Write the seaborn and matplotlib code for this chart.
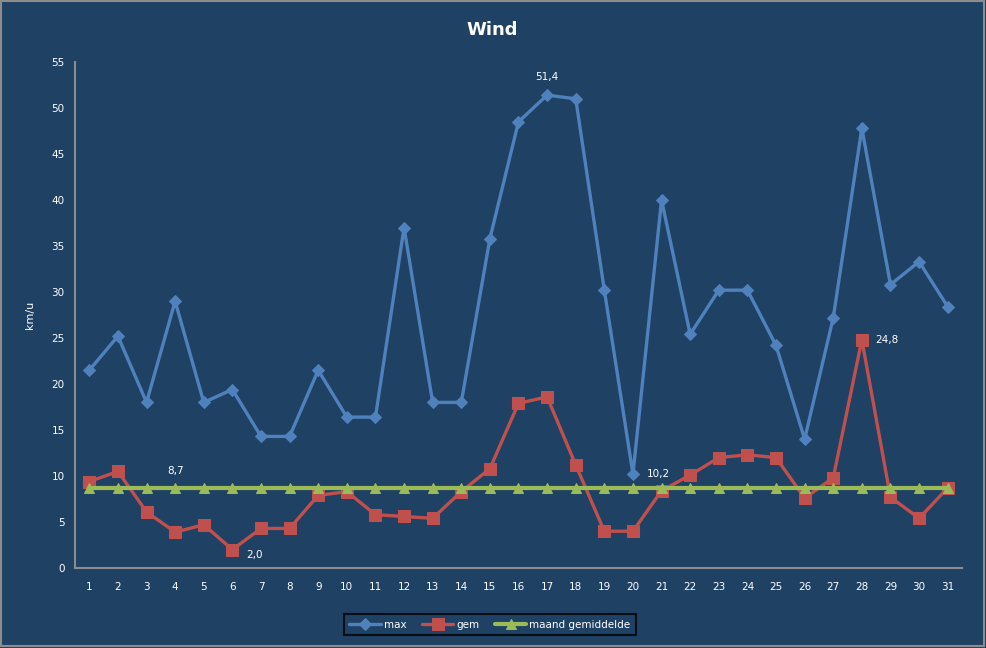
import numpy as np
import pandas as pd
import matplotlib
matplotlib.use("Agg")
import matplotlib.pyplot as plt
import seaborn as sns
from matplotlib.patches import Rectangle

# data
days = list(range(1, 32))
wind_max = [21.5, 25.2, 18.0, 29.0, 18.0, 19.4, 14.3, 14.3, 21.5, 16.4, 16.4, 37.0, 18.0, 18.0, 35.8, 48.5,
            51.4, 51.0, 30.2, 10.2, 40.0, 25.4, 30.2, 30.2, 24.2, 14.0, 27.2, 47.8, 30.8, 33.3, 28.4]
wind_gem = [9.4, 10.5, 6.1, 3.9, 4.7, 2.0, 4.3, 4.3, 7.9, 8.3, 5.8, 5.6, 5.4, 8.3, 10.8, 17.9,
            18.6, 11.2, 4.0, 4.0, 8.4, 10.1, 12.0, 12.3, 12.0, 7.6, 9.8, 24.8, 7.7, 5.4, 8.7]
maand_gem = [8.7] * 31
series_names = ["max", "gem", "maand gemiddelde"]

bg = "#1F4164"
colors = {"max": "#4F81BD", "gem": "#C0504D", "maand gemiddelde": "#9BBB59"}
markers = {"max": "D", "gem": "s", "maand gemiddelde": "^"}
sizes = {"max": 6, "gem": 8, "maand gemiddelde": 6.5}
widths = {"max": 2.4, "gem": 2.4, "maand gemiddelde": 3.0}

df = pd.DataFrame({"dag": days * 3,
                   "waarde": wind_max + wind_gem + maand_gem,
                   "reeks": [series_names[0]] * 31 + [series_names[1]] * 31 + [series_names[2]] * 31})

sns.set_style("dark")
plt.rcParams["font.family"] = ["DejaVu Sans"]

fig = plt.figure(figsize=(9.87, 6.48), dpi=100)
fig.patch.set_facecolor(bg)
ax = fig.add_axes([75 / 987, 1 - 568 / 648, 887 / 987, 506 / 648])
ax.set_facecolor(bg)

for name in series_names:
    sub = df[df["reeks"] == name]
    sns.lineplot(data=sub, x="dag", y="waarde", ax=ax, color=colors[name], marker=markers[name],
                 markersize=sizes[name], markeredgecolor=colors[name], linewidth=widths[name], label=name)

ax.set_xlim(0.5, 31.5)
ax.set_ylim(0, 55)
ax.set_yticks(np.arange(0, 56, 5))
ax.set_xticks(days)
ax.set_xticks(np.arange(0.5, 32, 1), minor=True)
ax.tick_params(axis="x", which="major", length=0, colors="white", labelsize=7.5, pad=10)
ax.tick_params(axis="x", which="minor", length=4, color="#8C8C8C", direction="out")
ax.tick_params(axis="y", length=4, color="#8C8C8C", direction="out", colors="white", labelsize=7.5)
ax.tick_params(axis="y", color="#8C8C8C")
ax.grid(False)
for s in ["top", "right"]:
    ax.spines[s].set_visible(False)
for s in ["left", "bottom"]:
    ax.spines[s].set_visible(True)
    ax.spines[s].set_color("#8C8C8C")
    ax.spines[s].set_linewidth(1.5)
ax.set_xlabel("")
ax.set_ylabel("km/u", color="white", fontsize=8, labelpad=12)

# data labels
ax.annotate("51,4", (17, wind_max[16]), xytext=(0, 11), textcoords="offset points", ha="center",
            color="white", fontsize=7.5)
ax.annotate("2,0", (6, wind_gem[5]), xytext=(10, -6), textcoords="offset points", ha="left",
            color="white", fontsize=7.5)
ax.annotate("8,7", (4, maand_gem[3]), xytext=(0, 10), textcoords="offset points", ha="center",
            color="white", fontsize=7.5)
ax.annotate("10,2", (20, wind_max[19]), xytext=(10, 0), textcoords="offset points", ha="left",
            va="center", color="white", fontsize=7.5)
ax.annotate("24,8", (28, wind_gem[27]), xytext=(10, 0), textcoords="offset points", ha="left",
            va="center", color="white", fontsize=7.5)

fig.text(492 / 987, 1 - 30 / 648, "Wind", ha="center", va="center", color="white",
         fontsize=13, fontweight="bold")

leg = ax.legend(loc="center", bbox_to_anchor=((490 - 75) / 887, -0.112), ncol=3, frameon=True,
                fontsize=7.5, handlelength=3.0, columnspacing=1.5, handletextpad=0.3,
                borderpad=0.5)
leg.get_frame().set_facecolor(bg)
leg.get_frame().set_edgecolor("black")
leg.get_frame().set_linewidth(1.5)
leg.get_frame().set_boxstyle("square", pad=0)
for t in leg.get_texts():
    t.set_color("white")

fig.patches.append(Rectangle((0.001, 0.003), 0.996, 0.995, transform=fig.transFigure,
                             fill=False, edgecolor="#8C8C8C", linewidth=1.5))

fig.savefig("out.png", dpi=100, facecolor=bg)
